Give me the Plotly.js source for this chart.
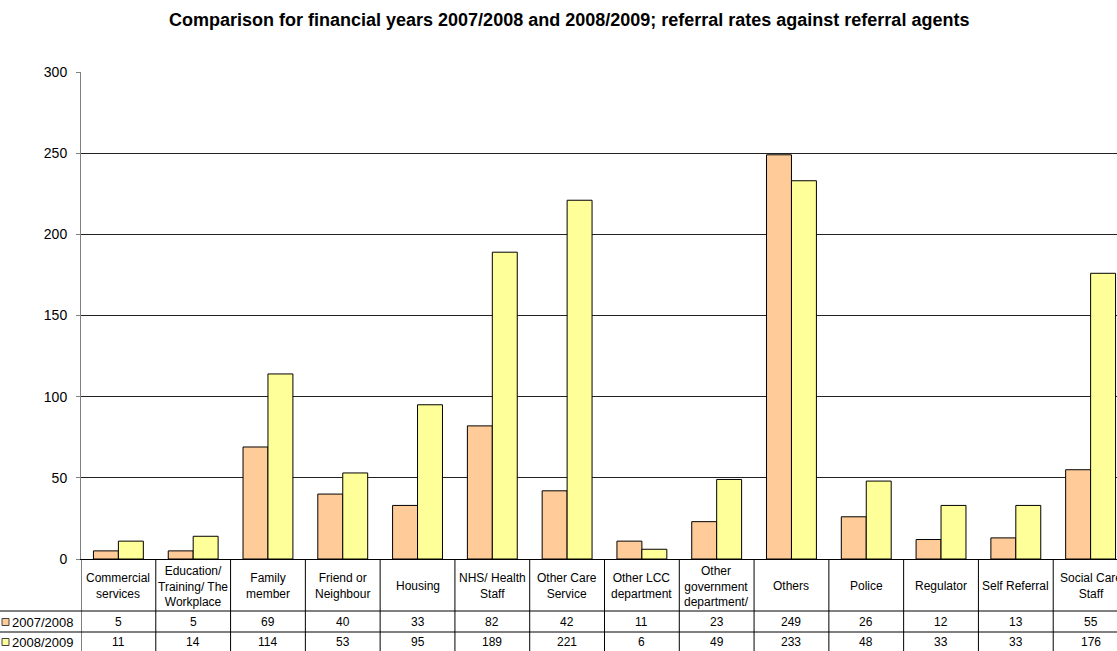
<!DOCTYPE html>
<html>
<head>
<meta charset="utf-8">
<script src="https://cdn.plot.ly/plotly-3.0.1.min.js"></script>
<style>
html,body{margin:0;padding:0;overflow:hidden;background:#fff;}
#chart{width:1128px;height:651px;}
</style>
</head>
<body>
<div id="chart"></div>
<script>
const categories = ["Commercial services","Education/ Training/ The Workplace","Family member","Friend or Neighbour","Housing","NHS/ Health Staff","Other Care Service","Other LCC department","Other government department/","Others","Police","Regulator","Self Referral","Social Care Staff"];
const categoryLabels = ["Commercial<br>services","Education/<br>Training/ The<br>Workplace","Family<br>member","Friend or<br>Neighbour","Housing","NHS/ Health<br>Staff","Other Care<br>Service","Other LCC<br>department","Other<br>government<br>department/","Others","Police","Regulator","Self Referral","Social Care<br>Staff"];
const seriesNames = ["2007/2008","2008/2009"];
const values2007 = [5,5,69,40,33,82,42,11,23,249,26,12,13,55];
const values2008 = [11,14,114,53,95,189,221,6,49,233,48,33,33,176];
const seriesColors = ["#FFCC99","#FFFF99"];
const yTicks = [0,50,100,150,200,250,300];

const FONT = "Liberation Sans, Arial, sans-serif";
const W = 1128, H = 651, L = 81, R = 0, T = 72, B = 92;
const plotW = W - L - R, plotH = H - T - B;
const py = px => -(px - (H - B)) / plotH; // pixel y -> paper y
const pxX = px => (px - L) / plotW;        // pixel x -> paper x

const traces = [values2007, values2008].map((vals, i) => ({
  type: "bar",
  name: seriesNames[i],
  x: categories,
  y: vals,
  marker: {color: seriesColors[i], line: {color: "#000", width: 1}},
  hoverinfo: "skip"
}));

const shapes = [];
const annotations = [];
const rowTop = H - B, rowH1 = 611, rowH2 = 632, rowBot = 651;
// vertical cell borders
for (let i = 0; i <= categories.length; i++) {
  shapes.push({type: "line", xref: "x", yref: "paper", x0: i - 0.5, x1: i - 0.5,
    y0: 0, y1: py(rowBot + 2), line: {color: "#000", width: 1}});
}
// horizontal row borders
[rowH1, rowH2].forEach(yy => {
  shapes.push({type: "line", xref: "paper", yref: "paper", x0: pxX(0), x1: 1.02,
    y0: py(yy), y1: py(yy), line: {color: "#000", width: 1}});
});
// header labels
categories.forEach((c, i) => {
  annotations.push({xref: "x", yref: "paper", x: c, y: py((rowTop + rowH1) / 2 + 1),
    text: categoryLabels[i], showarrow: false, align: "center",
    font: {family: FONT, size: 12, color: "#000"}, yanchor: "middle"});
  annotations.push({xref: "x", yref: "paper", x: c, y: py((rowH1 + rowH2) / 2 + 0.5),
    text: String(values2007[i]), showarrow: false,
    font: {family: FONT, size: 12, color: "#000"}, yanchor: "middle"});
  annotations.push({xref: "x", yref: "paper", x: c, y: py((rowH2 + rowBot) / 2 + 0.5),
    text: String(values2008[i]), showarrow: false,
    font: {family: FONT, size: 12, color: "#000"}, yanchor: "middle"});
});
// legend keys in table
[[rowH1, rowH2], [rowH2, rowBot]].forEach((r, i) => {
  const cy = (r[0] + r[1]) / 2;
  shapes.push({type: "rect", xref: "paper", yref: "paper", x0: pxX(2), x1: pxX(9),
    y0: py(cy + 4), y1: py(cy - 3), fillcolor: seriesColors[i], line: {color: "#404040", width: 1}});
  annotations.push({xref: "paper", yref: "paper", x: pxX(10), y: py(cy + 0.5), xanchor: "left",
    yanchor: "middle", text: seriesNames[i], showarrow: false,
    font: {family: FONT, size: 13, color: "#000"}});
});
// title
annotations.push({xref: "paper", yref: "paper", x: pxX(569), y: py(20), xanchor: "center", yanchor: "middle",
  text: "<b>Comparison for financial years 2007/2008 and 2008/2009; referral rates against referral agents</b>",
  showarrow: false, font: {family: FONT, size: 18, color: "#000"}});

const layout = {
  width: W, height: H,
  margin: {l: L, r: R, t: T, b: B, pad: 0},
  paper_bgcolor: "#fff", plot_bgcolor: "#fff",
  barmode: "group", bargap: 0.333, bargroupgap: 0,
  showlegend: false,
  xaxis: {type: "category", range: [-0.5, categories.length - 0.5], showticklabels: false,
    ticks: "", showgrid: false, showline: true, linecolor: "#000", linewidth: 1, zeroline: false, fixedrange: true},
  yaxis: {range: [0, 300], tickvals: yTicks, ticktext: yTicks.map(String), showgrid: true, gridcolor: "#222", gridwidth: 1,
    showline: true, linecolor: "#808080", linewidth: 1, ticks: "outside", ticklen: 4, tickcolor: "#808080",
    ticklabelstandoff: 6, zeroline: false, tickfont: {family: FONT, size: 14, color: "#000"}, fixedrange: true},
  shapes: shapes,
  annotations: annotations,
  font: {family: FONT}
};

Plotly.newPlot("chart", traces, layout, {displayModeBar: false, staticPlot: true});
</script>
</body>
</html>
